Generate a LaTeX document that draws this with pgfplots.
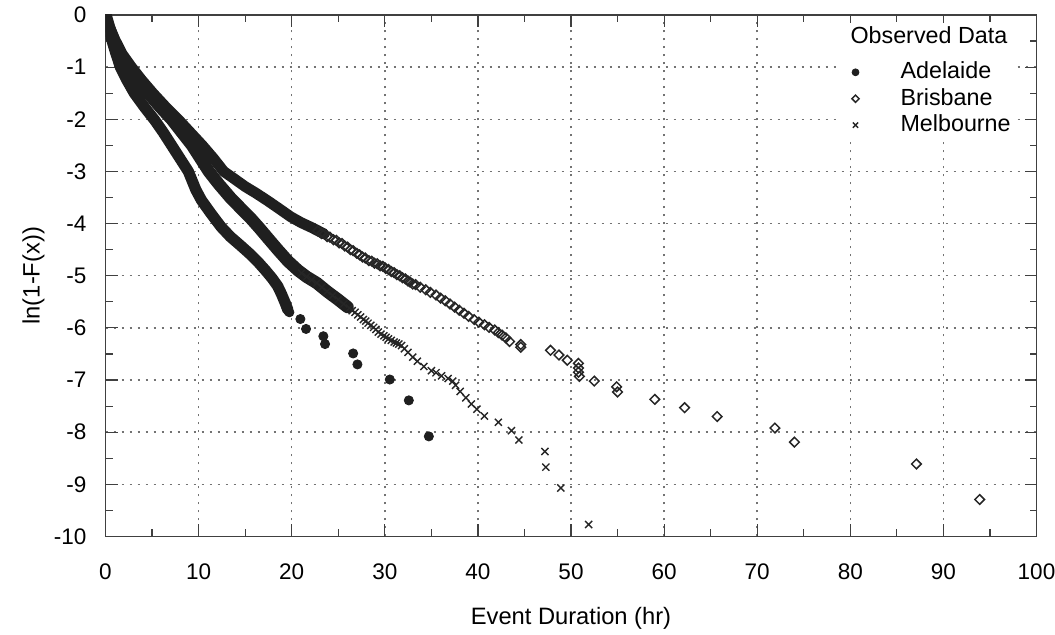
\documentclass[border=0pt]{standalone}
\usepackage{fontspec}
\setmainfont{Liberation Sans}
\usepackage{pgfplots}
\pgfplotsset{compat=1.18}
\begin{document}
\begin{tikzpicture}
\useasboundingbox (-52.75bp,-49.25bp) rectangle (474.75bp,268.25bp);
\begin{axis}[
  at={(0,0)}, anchor=south west,
  scale only axis, width=465.5bp, height=260.75bp,
  xmin=0, xmax=100, ymin=-10, ymax=0,
  xtick={0,10,...,100}, ytick={-10,-9,...,0},
  minor x tick num=1, minor y tick num=1,
  tick align=inside,
  major tick length=6bp, minor tick length=3.5bp,
  grid=major,
  major grid style={black!55, line width=0.75bp, dash pattern=on 1.3bp off 2.7bp},
  axis line style={black!75, line width=0.75bp},
  every tick/.style={black!75, line width=0.6bp},
  /pgf/number format/assume math mode=true,
  ticklabel style={font=\fontsize{11.3}{13}\selectfont},
  xticklabel style={yshift=-10bp},
  yticklabel style={xshift=-6bp},
  xlabel={Event Duration (hr)}, ylabel={ln(1-F(x))},
  label style={font=\fontsize{11.9}{14}\selectfont},
  xlabel style={at={(axis description cs:0.5,-0.1572)}, anchor=center},
  ylabel style={at={(axis description cs:-0.0773,0.5)}, anchor=center},
  legend image code/.code={%
    \path[draw=none] (-1bp,0bp) -- (27bp,0bp);
    \path[mark repeat=2,mark phase=2,#1,only marks,draw=none,every mark/.append style={scale=0.75}]
      plot coordinates {(0bp,0bp) (6bp,0bp) (26bp,0bp)};},
  legend style={at={(axis description cs:0.788,0.9858)}, anchor=north west,
    draw=none, fill=white, inner sep=1bp, row sep=0.7bp,
    font=\fontsize{11.7}{13}\selectfont,
    nodes={inner sep=1.5bp, text height=8bp, text depth=1.5bp}},
  legend cell align=left,
]
\addlegendimage{empty legend}
\addlegendentry[text depth=5.8bp]{\hspace*{-25bp}Observed Data}

% ---------- Adelaide ----------
\addplot[forget plot, black!88, line width=5.6bp, line join=round, line cap=round] coordinates {
(0,0) (0.3,-0.22) (0.6,-0.43) (1.0,-0.67) (1.6,-1.0) (2.3,-1.25) (3.1,-1.5)
(4.2,-1.77) (5.3,-2.02) (6.2,-2.25) (7.1,-2.5)
(8.0,-2.75) (8.9,-3.0) (9.7,-3.35) (10.3,-3.55) (11.3,-3.8) (12.4,-4.06)
(13.4,-4.25) (14.5,-4.42) (15.5,-4.58) (16.4,-4.74) (17.2,-4.9) (17.9,-5.05)
(18.5,-5.2) (18.9,-5.35) (19.3,-5.52) (19.6,-5.66)
};
\addplot[only marks, mark=*, mark size=2.3bp, black!88] coordinates {
(19.75,-5.70) (20.93,-5.83) (21.54,-6.02) (23.40,-6.16) (23.58,-6.31)
(26.6,-6.49) (27.06,-6.70) (30.54,-6.99) (32.58,-7.39) (34.73,-8.08)
};
\addlegendentry{Adelaide}

% ---------- Brisbane ----------
\addplot[forget plot, black!88, line width=5.4bp, line join=round, line cap=round] coordinates {
(0,0) (0.4,-0.22) (1.0,-0.47) (1.8,-0.75) (2.8,-1.0) (3.9,-1.25) (5.1,-1.5)
(6.4,-1.75) (7.8,-2.0) (9.1,-2.25) (10.4,-2.5) (11.6,-2.75) (12.7,-3.0)
(13.9,-3.15) (15.0,-3.29) (16.2,-3.42) (17.4,-3.56)
(18.7,-3.72) (19.9,-3.87) (21.0,-3.98) (22.2,-4.08) (23.5,-4.2)
};
\addplot[only marks, mark=square, mark size=1.7bp,
  mark options={rotate=45, draw=black!85, fill=white, line width=0.75bp}] coordinates {
(22.8,-4.14) (23.2,-4.19) (23.5,-4.2) (23.8,-4.25) (24.1,-4.26) (24.5,-4.31)
(24.8,-4.32) (25.1,-4.37) (25.4,-4.38) (25.7,-4.43) (26.0,-4.45) (26.3,-4.50)
(26.6,-4.52) (27.0,-4.57) (27.3,-4.6) (27.6,-4.64) (27.9,-4.66) (28.3,-4.71)
(28.6,-4.72) (28.9,-4.76) (29.2,-4.77) (29.5,-4.81) (29.8,-4.82) (30.1,-4.86)
(30.4,-4.88) (30.7,-4.92) (31.0,-4.94) (31.3,-4.98) (31.6,-5.0) (31.9,-5.04)
(32.2,-5.06) (32.5,-5.10) (32.7,-5.12) (33.0,-5.16) (33.3,-5.17) (33.8,-5.22)
(34.4,-5.27) (34.9,-5.32) (35.5,-5.37) (36.0,-5.43) (36.5,-5.48)
(37.0,-5.54) (37.5,-5.6) (38.0,-5.66) (38.5,-5.72) (39.0,-5.78) (39.6,-5.84)
(40.1,-5.89) (40.7,-5.94) (41.2,-5.99) (41.8,-6.04) (42.2,-6.09) (42.6,-6.14)
(43.0,-6.19) (43.4,-6.26) (44.6,-6.32) (44.6,-6.37) (47.8,-6.43) (48.7,-6.52)
(49.6,-6.62) (50.8,-6.68) (50.8,-6.77) (50.8,-6.85) (50.9,-6.93) (52.5,-7.02)
(54.9,-7.13) (55.0,-7.23) (59.0,-7.37) (62.2,-7.53) (65.7,-7.70) (71.9,-7.92)
(74.0,-8.19) (87.1,-8.61) (93.9,-9.29)
};
\addlegendentry{Brisbane}

% ---------- Melbourne ----------
\addplot[forget plot, black!88, line width=6.2bp, line join=round, line cap=round] coordinates {
(0,0) (0.4,-0.25) (0.9,-0.5) (1.6,-0.75) (2.5,-1.0) (3.5,-1.25) (4.6,-1.5)
(5.8,-1.75) (7.1,-2.0) (8.2,-2.25) (9.3,-2.5) (10.2,-2.75) (11.1,-3.0)
(12.2,-3.25) (13.4,-3.5) (14.6,-3.72) (15.6,-3.9) (16.5,-4.08) (17.4,-4.27)
(18.5,-4.5) (19.6,-4.72) (20.7,-4.9) (21.6,-5.02) (22.7,-5.14)
(23.8,-5.3) (25.0,-5.46) (26.0,-5.6)
};
\addplot[only marks, mark=x, mark size=2.5bp, black!85,
  mark options={line width=0.7bp}] coordinates {
(21.05,-4.95) (21.6,-5.02) (22.15,-5.08) (22.7,-5.14) (23.25,-5.22) (23.8,-5.3)
(24.4,-5.38) (25.0,-5.46) (25.6,-5.54) (26.2,-5.62) (26.5,-5.67) (26.8,-5.7)
(27.1,-5.75) (27.4,-5.79) (27.7,-5.84) (27.95,-5.87) (28.2,-5.91) (28.5,-5.95)
(28.8,-5.99) (29.05,-6.03) (29.3,-6.08) (29.6,-6.12) (29.9,-6.15) (30.15,-6.18)
(30.4,-6.21) (30.7,-6.24) (31.0,-6.27) (31.25,-6.29) (31.5,-6.31) (31.8,-6.34)
(32.1,-6.40) (32.5,-6.47) (33.0,-6.56) (33.5,-6.64) (34.2,-6.74)
(35.0,-6.82) (35.5,-6.86) (36.1,-6.92) (36.8,-6.97) (37.3,-7.02) (37.6,-7.1)
(38.1,-7.22) (38.7,-7.34) (39.3,-7.46) (39.9,-7.56) (40.7,-7.69) (42.2,-7.81)
(43.6,-7.97) (44.4,-8.15) (47.2,-8.37) (47.3,-8.67) (48.9,-9.07) (51.9,-9.77)
};
\addlegendentry{Melbourne}
\end{axis}
\end{tikzpicture}
\end{document}
